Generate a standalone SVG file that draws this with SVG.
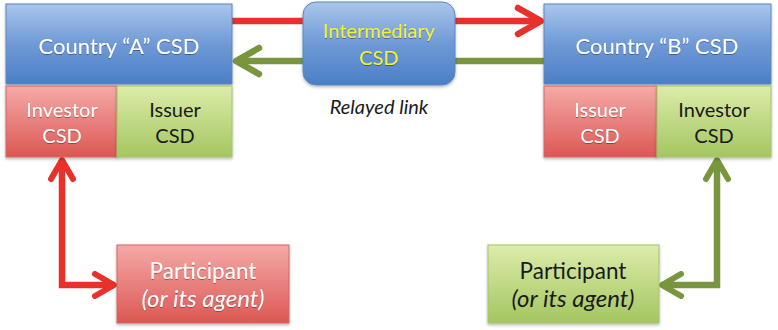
<svg xmlns="http://www.w3.org/2000/svg" width="778" height="330" viewBox="0 0 778 330">
  <defs>
    <linearGradient id="gBlue" x1="0" y1="0" x2="0" y2="1">
      <stop offset="0" stop-color="#a9c6ec"/>
      <stop offset="0.5" stop-color="#6f9ad6"/>
      <stop offset="1" stop-color="#4a7fc6"/>
    </linearGradient>
    <linearGradient id="gRed" x1="0" y1="0" x2="0" y2="1">
      <stop offset="0" stop-color="#f5aaa8"/>
      <stop offset="1" stop-color="#dc5753"/>
    </linearGradient>
    <linearGradient id="gGreen" x1="0" y1="0" x2="0" y2="1">
      <stop offset="0" stop-color="#dcecaa"/>
      <stop offset="1" stop-color="#a4c660"/>
    </linearGradient>
    <filter id="shadow" x="-10%" y="-10%" width="120%" height="130%">
      <feDropShadow dx="0" dy="1.5" stdDeviation="1.5" flood-color="#000" flood-opacity="0.3"/>
    </filter>
    <filter id="tshadow" x="-10%" y="-20%" width="120%" height="150%">
      <feDropShadow dx="0" dy="1" stdDeviation="0.6" flood-color="#000" flood-opacity="0.35"/>
    </filter>
    <!-- large open chevrons for the relayed link -->
    <marker id="bigRed" viewBox="0 0 32 34" refX="27" refY="17" markerWidth="32" markerHeight="34" markerUnits="userSpaceOnUse" orient="auto-start-reverse">
      <path d="M4,4 L27,17 L4,30" fill="none" stroke="#e8312b" stroke-width="6.5" stroke-linecap="round" stroke-linejoin="round"/>
    </marker>
    <marker id="bigGreen" viewBox="0 0 32 34" refX="27" refY="17" markerWidth="32" markerHeight="34" markerUnits="userSpaceOnUse" orient="auto-start-reverse">
      <path d="M4,4 L27,17 L4,30" fill="none" stroke="#79963f" stroke-width="6.5" stroke-linecap="round" stroke-linejoin="round"/>
    </marker>
    <!-- smaller chevrons for the participant links -->
    <marker id="smRed" viewBox="0 0 28 28" refX="23" refY="14" markerWidth="28" markerHeight="28" markerUnits="userSpaceOnUse" orient="auto-start-reverse">
      <path d="M4,3 L23,14 L4,25" fill="none" stroke="#e8312b" stroke-width="6" stroke-linecap="round" stroke-linejoin="round"/>
    </marker>
    <marker id="smGreen" viewBox="0 0 28 28" refX="23" refY="14" markerWidth="28" markerHeight="28" markerUnits="userSpaceOnUse" orient="auto-start-reverse">
      <path d="M4,3 L23,14 L4,25" fill="none" stroke="#79963f" stroke-width="6" stroke-linecap="round" stroke-linejoin="round"/>
    </marker>
  </defs>
  <style>
    text { font-family: Lato, "Open Sans", "Liberation Sans", sans-serif; text-anchor: middle; }
    .blue { fill: url(#gBlue); stroke: #5c86c0; stroke-width: 1; filter: url(#shadow); }
    .red { fill: url(#gRed); stroke: #d26763; stroke-width: 1; filter: url(#shadow); }
    .green { fill: url(#gGreen); stroke: #a6c46b; stroke-width: 1; filter: url(#shadow); }
    .big { font-size: 22px; fill: #ffffff; filter: url(#tshadow); }
    .lbl { font-size: 20px; }
    .part { font-size: 22.5px; }
    .partI { font-size: 24px; font-style: italic; }
    .light { fill: #ffffff; filter: url(#tshadow); }
    .dark { fill: #1a1a1a; }
    .yellow { fill: #f2f23a; font-size: 20px; filter: url(#tshadow); }
    .ital { font-style: italic; }
    .lnRed { fill: none; stroke: #e8312b; stroke-width: 6.5; }
    .lnGreen { fill: none; stroke: #79963f; stroke-width: 6.5; }
  </style>

  <!-- connectors -->
  <g id="connectors">
    <line class="lnRed" x1="232" y1="21" x2="304" y2="21"/>
    <line class="lnRed" x1="454" y1="21" x2="541" y2="21" marker-end="url(#bigRed)"/>
    <line class="lnGreen" x1="544" y1="61" x2="454" y2="61"/>
    <line class="lnGreen" x1="304" y1="61" x2="236" y2="61" marker-end="url(#bigGreen)"/>
    <path class="lnRed" d="M62,160 V285 H114" marker-start="url(#smRed)" marker-end="url(#smRed)"/>
    <path class="lnGreen" d="M717,160 V285 H662" marker-start="url(#smGreen)" marker-end="url(#smGreen)"/>
  </g>

  <!-- country A -->
  <g id="countryA">
    <rect class="blue" x="6" y="4" width="226" height="80"/>
    <text class="big" x="119" y="54">Country “A” CSD</text>
  </g>
  <g id="investorA">
    <rect class="red" x="6" y="86" width="111" height="71"/>
    <text class="lbl light" x="62" y="117">Investor</text>
    <text class="lbl light" x="62" y="143">CSD</text>
  </g>
  <g id="issuerA">
    <rect class="green" x="117" y="86" width="115" height="71"/>
    <text class="lbl dark" x="175" y="117">Issuer</text>
    <text class="lbl dark" x="175" y="143">CSD</text>
  </g>

  <!-- intermediary -->
  <g id="intermediary">
    <rect class="blue" x="303" y="2" width="152" height="83" rx="13" ry="13"/>
    <text class="yellow" x="379" y="38">Intermediary</text>
    <text class="yellow" x="379" y="65">CSD</text>
  </g>
  <g id="relayedLink">
    <text class="lbl dark ital" x="379" y="114">Relayed link</text>
  </g>

  <!-- country B -->
  <g id="countryB">
    <rect class="blue" x="544" y="4" width="227" height="80"/>
    <text class="big" x="657" y="54">Country “B” CSD</text>
  </g>
  <g id="issuerB">
    <rect class="red" x="544" y="86" width="113" height="71"/>
    <text class="lbl light" x="600" y="117">Issuer</text>
    <text class="lbl light" x="600" y="143">CSD</text>
  </g>
  <g id="investorB">
    <rect class="green" x="657" y="86" width="114" height="71"/>
    <text class="lbl dark" x="714" y="117">Investor</text>
    <text class="lbl dark" x="714" y="143">CSD</text>
  </g>

  <!-- participants -->
  <g id="participantA">
    <rect class="red" x="117" y="245" width="172" height="78"/>
    <text class="part light" x="203" y="279">Participant</text>
    <text class="partI light" x="203" y="307">(or its agent)</text>
  </g>
  <g id="participantB">
    <rect class="green" x="488" y="245" width="171" height="78"/>
    <text class="part dark" x="573" y="279">Participant</text>
    <text class="partI dark" x="573" y="307">(or its agent)</text>
  </g>
</svg>
